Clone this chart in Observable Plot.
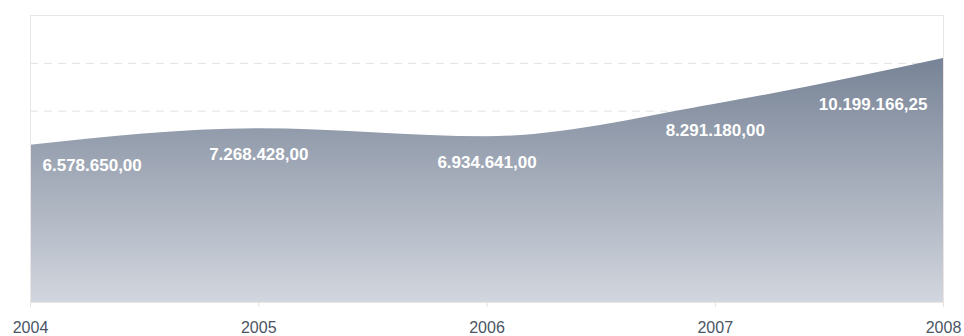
<!DOCTYPE html>
<html>
<head>
<meta charset="utf-8">
<script src="https://cdn.jsdelivr.net/npm/d3@7"></script>
<script src="https://cdn.jsdelivr.net/npm/@observablehq/plot@0.6"></script>
<style>
  body { margin: 0; background: #fff; }
  #chart svg { display: block; }
</style>
</head>
<body>
<div id="chart"></div>
<script>
const years = [2004, 2005, 2006, 2007, 2008];
const values = [6578650.00, 7268428.00, 6934641.00, 8291180.00, 10199166.25];
const labels = ["6.578.650,00", "7.268.428,00", "6.934.641,00", "8.291.180,00", "10.199.166,25"];
const gridValues = [8000000, 10000000];

const data = years.map((y, i) => ({year: y, value: values[i], label: labels[i]}));
const first = data.slice(0, 1);
const middle = data.slice(1, 4);
const last = data.slice(4);

const labelStyle = {
  x: "year", y: "value", text: "label",
  fill: "white", fontWeight: "bold", fontSize: 17,
  fontFamily: "Liberation Sans, Arial, sans-serif"
};

const plot = Plot.plot({
  width: 964,
  height: 336,
  marginLeft: 30,
  marginRight: 21,
  marginTop: 15,
  marginBottom: 34,
  style: {fontFamily: "Liberation Sans, Arial, sans-serif", background: "white"},
  x: {domain: [2004, 2008], axis: null, label: null},
  y: {domain: [0, 12000000], axis: null, label: null},
  marks: [
    Plot.gridY(gridValues, {stroke: "#e2e2e2", strokeOpacity: 1, strokeDasharray: "8,6"}),
    Plot.areaY(data, {x: "year", y: "value", curve: "monotone-x", fill: "url(#areaGrad)"}),
    Plot.frame({stroke: "#ebe6e3"}),
    Plot.axisX({ticks: years, tickFormat: () => "", tickSize: 5, stroke: "#e4e0dc", label: null}),
    Plot.axisX({ticks: years, tickFormat: d => String(d), tickSize: 0, tickPadding: 19,
                fontSize: 16, fill: "#4a5565", label: null}),
    Plot.text(first, {...labelStyle, textAnchor: "start", dx: 12, dy: 20}),
    Plot.text(middle, {...labelStyle, textAnchor: "middle", dy: 26}),
    Plot.text(last, {...labelStyle, textAnchor: "end", dx: -16, dy: 46})
  ]
});

const defs = d3.select(plot).insert("defs", ":first-child");
const grad = defs.append("linearGradient")
  .attr("id", "areaGrad")
  .attr("x1", 0).attr("y1", 0).attr("x2", 0).attr("y2", 1);
grad.append("stop").attr("offset", "0%").attr("stop-color", "#778396");
grad.append("stop").attr("offset", "100%").attr("stop-color", "#d2d6de");

document.getElementById("chart").appendChild(plot);
</script>
</body>
</html>
